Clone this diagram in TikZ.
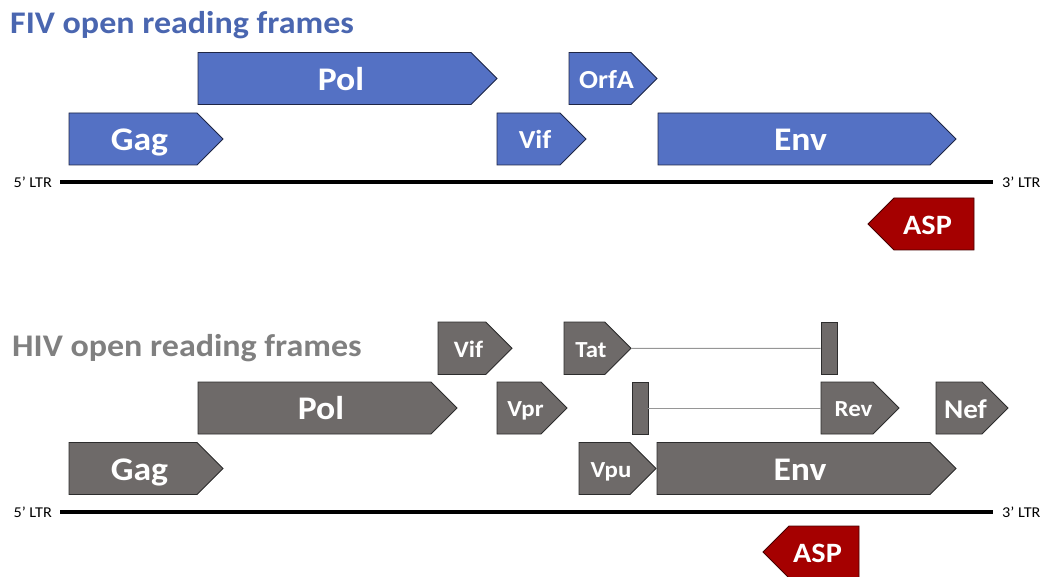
\documentclass[tikz,border=0pt]{standalone}
\usepackage{fontspec}
\newfontfamily\cf[FakeStretch=1.08]{Carlito}
\definecolor{fivblue}{RGB}{84,113,196}
\definecolor{fivedge}{RGB}{30,38,70}
\definecolor{fivtitle}{RGB}{74,102,176}
\definecolor{hivgray}{RGB}{110,106,105}
\definecolor{hivedge}{RGB}{45,45,45}
\definecolor{hivtitle}{RGB}{128,128,128}
\definecolor{aspred}{RGB}{165,0,0}
\definecolor{aspedge}{RGB}{70,0,0}
\definecolor{connline}{RGB}{150,150,150}
\tikzset{
  fivbox/.style={fill=fivblue, draw=fivedge, line width=0.9pt, line join=miter},
  hivbox/.style={fill=hivgray, draw=hivedge, line width=0.9pt, line join=miter},
  aspbox/.style={fill=aspred, draw=aspedge, line width=0.9pt, line join=miter},
  lbl/.style={text=white, inner sep=0pt, anchor=base},
  genome/.style={line width=3.6pt, black},
  ltr/.style={font=\cf\fontsize{15}{15}\selectfont, inner ysep=0pt, text=black},
  conn/.style={line width=1pt, draw=connline},
  ttl/.style={font=\cf\bfseries\fontsize{31.5}{31.5}\selectfont, inner sep=0pt, anchor=base west}
}
% right-pointing frame: style, name, left, tip, top, bottom, size, text
\newcommand\orfR[8]{%
  \pgfmathsetmacro\dd{(#6-#5)/2}%
  \path[#1] (#3,#5) -- ({#4-\dd},#5) -- (#4,{#5+\dd}) -- ({#4-\dd},#6) -- (#3,#6) -- cycle;
  \node[lbl, font=\cf\bfseries\fontsize{#7}{#7}\selectfont] (#2) at ({(2*#3+2*#4-\dd)/4},{#5+\dd+0.316*#7+1.5}) {#8};
}
% left-pointing frame: style, name, tip, right, top, bottom, size, text
\newcommand\orfL[8]{%
  \pgfmathsetmacro\dd{(#6-#5)/2}%
  \path[#1] (#4,#5) -- ({#3+\dd},#5) -- (#3,{#5+\dd}) -- ({#3+\dd},#6) -- (#4,#6) -- cycle;
  \node[lbl, font=\cf\bfseries\fontsize{#7}{#7}\selectfont] (#2) at ({(2*#4+2*#3+\dd)/4},{#5+\dd+0.316*#7+1.5}) {#8};
}
\begin{document}
\begin{tikzpicture}[x=1pt,y=-1pt]
\useasboundingbox (0,0) rectangle (1041,577);
\clip (0,0) rectangle (1041,577);

% ---------- FIV ----------
\node[ttl, text=fivtitle] (fivtitle) at (10,34) {FIV open reading frames};
\orfR{fivbox}{fivPol}{198}{497}{52.5}{104.5}{33}{Pol}
\orfR{fivbox}{fivOrfA}{569}{657}{52.5}{104.5}{26}{OrfA}
\orfR{fivbox}{fivGag}{69}{223}{113}{165}{33}{Gag}
\orfR{fivbox}{fivVif}{497}{586}{113}{165}{26}{Vif}
\orfR{fivbox}{fivEnv}{658}{956}{113}{165}{33}{Env}
\node[ltr, anchor=east, inner xsep=8pt] (fiv5) at (60,182) {5’ LTR};
\node[ltr, anchor=west, inner xsep=9pt] (fiv3) at (993,182) {3’ LTR};
\draw[genome] (fiv5.east) -- (fiv3.west);
\orfL{aspbox}{fivASP}{868}{974}{198}{250}{28}{ASP}

% ---------- HIV ----------
\node[ttl, text=hivtitle] (hivtitle) at (12,356) {HIV open reading frames};
\orfR{hivbox}{hivVif}{438}{512}{322}{374.5}{23.5}{Vif}
\orfR{hivbox}{hivTat}{564}{631}{322}{374.5}{23}{Tat}
\coordinate (tatTip) at (631,348.5);
\node[hivbox, minimum width=16, minimum height=52.5, inner sep=0pt] (tatExon) at (829,348.25) {};
\draw[conn] (tatTip) -- (tatExon.west);
\orfR{hivbox}{hivPol}{198}{457}{382}{434}{33}{Pol}
\orfR{hivbox}{hivVpr}{497}{567}{382}{434}{23}{Vpr}
\node[hivbox, minimum width=16, minimum height=52, inner sep=0pt] (revExon) at (640,408) {};
\orfR{hivbox}{hivRev}{821}{899}{382}{434}{23}{Rev}
\coordinate (revStart) at (821,408);
\draw[conn] (revExon.east) -- (revStart);
\orfR{hivbox}{hivNef}{936}{1008}{382}{434}{27}{Nef}
\orfR{hivbox}{hivGag}{69}{223}{442.5}{494.5}{33}{Gag}
\orfR{hivbox}{hivVpu}{579}{656}{442.5}{494.5}{23}{Vpu}
\orfR{hivbox}{hivEnv}{657}{956}{442.5}{494.5}{33}{Env}
\node[ltr, anchor=east, inner xsep=8pt] (hiv5) at (60,512) {5’ LTR};
\node[ltr, anchor=west, inner xsep=9pt] (hiv3) at (993,512) {3’ LTR};
\draw[genome] (hiv5.east) -- (hiv3.west);
\orfL{aspbox}{hivASP}{763}{859}{526}{578}{28}{ASP}
\end{tikzpicture}
\end{document}
